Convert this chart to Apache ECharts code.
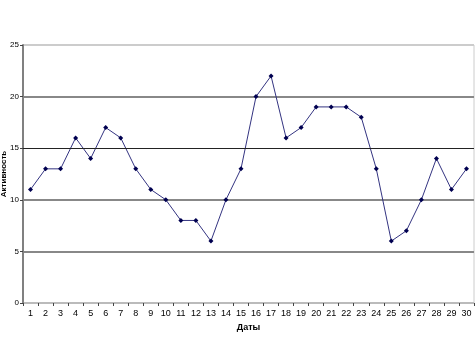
<!DOCTYPE html>
<html><head><meta charset="utf-8">
<script src="https://cdn.jsdelivr.net/npm/echarts@6/dist/echarts.min.js"></script>
<style>html,body{margin:0;padding:0;background:#fff}#c{width:475px;height:356px}</style>
</head><body><div id="c"></div>
<script>
const categories = ['1','2','3','4','5','6','7','8','9','10','11','12','13','14','15','16','17','18','19','20','21','22','23','24','25','26','27','28','29','30'];
const activity = [11,13,13,16,14,17,16,13,11,10,8,8,6,10,13,20,22,16,17,19,19,19,18,13,6,7,10,14,11,13];
const yTicks = [0,5,10,15,20,25];

const chart = echarts.init(document.getElementById('c'));
chart.setOption({
  animation: false,
  grid: {left: 23, right: 1, top: 45, bottom: 53, outerBoundsMode: 'none', containLabel: false},
  xAxis: {
    type: 'category', data: categories, boundaryGap: true,
    name: 'Даты', nameLocation: 'middle', nameGap: 20, nameMoveOverlap: false,
    nameTextStyle: {fontFamily: 'Liberation Sans', fontSize: 9, fontWeight: 'bold', color: '#000'},
    axisLine: {lineStyle: {color: '#bbb', width: 1}},
    axisTick: {show: true, alignWithLabel: false, length: 3, lineStyle: {color: '#444'}},
    axisLabel: {fontFamily: 'Liberation Sans', fontSize: 9, color: '#000', margin: 6, interval: 0},
    splitLine: {show: false}
  },
  yAxis: {
    type: 'value', min: yTicks[0], max: yTicks[yTicks.length-1], interval: 5,
    name: 'Активность', nameLocation: 'middle', nameGap: 15, nameRotate: 90, nameMoveOverlap: false,
    nameTextStyle: {fontFamily: 'Liberation Sans', fontSize: 8, fontWeight: 'bold', color: '#000'},
    axisLine: {show: true, lineStyle: {color: '#808080', width: 2}},
    axisTick: {show: true, length: 3, lineStyle: {color: '#444'}},
    axisLabel: {fontFamily: 'Liberation Sans', fontSize: 8, color: '#000', margin: 4},
    splitLine: {show: true, lineStyle: {color: ['#bbb','#888','#888','rgba(0,0,0,0)','#888','#ccc'], width: 2}}
  },
  series: [{
    type: 'line', data: activity,
    lineStyle: {color: '#333380', width: 1},
    symbol: 'diamond', symbolSize: 5,
    itemStyle: {color: '#000050'},
    markLine: {silent: true, symbol: 'none', label: {show: false},
      lineStyle: {color: '#222', width: 1, type: 'solid'},
      data: [{yAxis: yTicks[3]}]}
  }],
  graphic: [{type: 'line', shape: {x1: 474, y1: 45, x2: 474, y2: 303}, style: {stroke: '#ccc', lineWidth: 1}}]
});
</script></body></html>
